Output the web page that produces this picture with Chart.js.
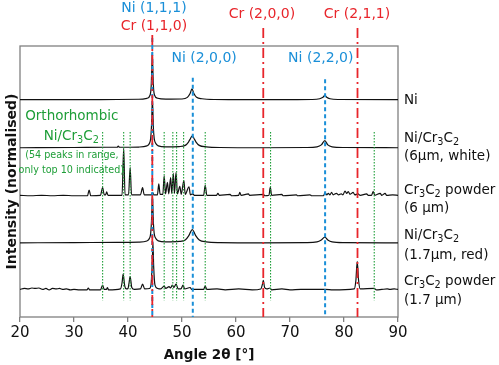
<!DOCTYPE html>
<html>
<head>
<meta charset="utf-8">
<script src="https://cdn.jsdelivr.net/npm/chart.js@4"></script>
<style>
html,body{margin:0;padding:0;background:#fff;}
#c{display:block;}
</style>
</head>
<body>
<canvas id="c" width="499" height="365"></canvas>
<script>
// ---------- data (angle 2θ, normalised intensity) ----------
const ANGLE_MIN = 20, ANGLE_MAX = 90, ANGLE_STEP = 10;
const Y_MIN = 0, Y_MAX = 5.7;

const TRACE_NAMES = ['Ni', 'Ni/Cr3C2 6µm white', 'Cr3C2 powder 6µm', 'Ni/Cr3C2 1.7µm red', 'Cr3C2 powder 1.7µm'];
const OFFSETS = [4.57, 3.56, 2.55, 1.56, 0.57];

const NI = [
  [20,0],[30,0],[38,0.005],[42,0.01],[43.5,0.03],[44.1,0.1],[44.3,0.3],[44.42,0.72],[44.5,1.0],[44.58,0.72],[44.7,0.3],[44.9,0.1],[45.5,0.03],
  [47,0.012],[50,0.015],[51.0,0.05],[51.5,0.13],[51.85,0.23],[52.2,0.13],[52.7,0.05],[53.7,0.02],[56,0.005],[65,0],
  [74,0.005],[75.5,0.02],[76.1,0.05],[76.45,0.09],[76.8,0.05],[77.4,0.02],[79,0.005],[90,0]
];
const NI_CR_WHITE = [
  [20,0],[30,0.005],[36,0.01],[38.0,0.01],[38.2,0.035],[38.4,0.01],[42,0.015],[43.5,0.04],[44.0,0.1],[44.2,0.2],[44.35,0.45],[44.45,0.82],
  [44.52,1.0],[44.6,0.8],[44.7,0.42],[44.85,0.2],[45.1,0.1],[45.6,0.04],[47,0.02],[49.5,0.025],[50.6,0.05],[51.2,0.12],[51.6,0.2],
  [51.9,0.25],[52.2,0.2],[52.6,0.12],[53.2,0.05],[54.5,0.02],[57,0.005],[65,0],[73,0.005],[75,0.02],[75.8,0.06],[76.45,0.15],
  [77.0,0.06],[77.8,0.02],[80,0.005],[90,0]
];
const CR3C2_6UM = [
  [20,0.01],[22,0],[24,0.01],[26,0],[28,0.01],[30,0],[32.5,0],[32.8,0.12],[33.1,0],[34.9,0.01],[35.3,0.17],[35.6,0.02],[35.85,0.02],
  [36.05,0.08],[36.3,0.01],[38.9,0.01],[39.2,1.0],[39.45,0.02],[40.1,0.02],[40.4,0.6],[40.65,0.02],[42.3,0.02],[42.7,0.17],[43.0,0.02],
  [44.3,0.02],[44.55,0.07],[44.8,0.02],[45.45,0.02],[45.7,0.25],[45.95,0.03],[46.45,0.03],[46.7,0.42],[46.95,0.04],[47.3,0.28],
  [47.55,0.04],[47.9,0.38],[48.1,0.05],[48.4,0.47],[48.6,0.05],[48.9,0.49],[49.15,0.04],[49.6,0.2],[49.85,0.03],[50.35,0.32],
  [50.6,0.03],[51.3,0.19],[51.55,0.02],[52.0,0.04],[52.3,0.01],[54.0,0.01],[54.3,0.22],[54.6,0.01],[56.4,0.01],[56.65,0.05],
  [56.9,0.01],[58.9,0.03],[59.2,0],[60.5,0.01],[60.7,0.07],[60.95,0.01],[62.3,0.04],[62.5,0.01],[65.1,0.03],[65.3,0],[66.1,0.01],
  [66.35,0.18],[66.6,0.01],[68.5,0.03],[68.7,0],[71.2,0.02],[71.4,0],[73.7,0.02],[74,0],[76.2,0],[76.5,0.07],[76.8,0.02],[77.1,0.05],
  [77.4,0.02],[77.7,0.07],[78.0,0.02],[78.6,0.05],[79.0,0.02],[79.5,0.04],[79.8,0.02],[80.2,0.1],[80.5,0.05],[80.8,0.09],[81.1,0.03],
  [81.7,0.07],[82.0,0.02],[82.6,0.04],[83,0.01],[84.2,0.04],[84.5,0.01],[85.1,0.01],[85.4,0.09],[85.7,0.01],[86.7,0.05],[87.0,0.01],
  [87.6,0.05],[87.9,0.01],[89,0.02],[90,0.01]
];
const NI_CR_RED = [
  [20,0],[30,0.005],[38,0.01],[42,0.015],[43.5,0.04],[44.0,0.1],[44.2,0.2],[44.35,0.45],[44.45,0.82],[44.52,1.0],[44.6,0.8],[44.7,0.42],
  [44.85,0.2],[45.1,0.1],[45.6,0.04],[47,0.02],[49.5,0.03],[50.6,0.06],[51.2,0.14],[51.6,0.23],[51.9,0.28],[52.2,0.23],[52.6,0.14],
  [53.2,0.06],[54.5,0.02],[57,0.005],[65,0],[73,0.005],[75,0.02],[75.8,0.06],[76.45,0.12],[77.0,0.06],[77.8,0.02],[80,0.005],[90,0]
];
const CR3C2_17UM = [
  [20,0.01],[20.8,0.03],[21.5,0.02],[22.2,0.04],[22.8,0.03],[23.5,0.04],[24.2,0.01],[24.8,0.03],[25.4,0],[26.0,0.03],[26.7,0.02],
  [27.3,0.03],[28,0.01],[28.6,0.02],[29.3,0],[30,0.01],[31,0],[32.4,0],[32.65,0.04],[32.9,0],[34.9,0],[35.3,0.1],[35.6,0.01],[36.0,0.01],
  [36.2,0.05],[36.4,0],[38.6,0.02],[38.9,0.15],[39.1,0.33],[39.4,0.08],[39.7,0.02],[40.0,0.03],[40.2,0.15],[40.4,0.28],[40.7,0.05],
  [41.2,0.01],[42.3,0.02],[42.7,0.12],[43.1,0.02],[44.0,0.03],[44.3,0.15],[44.5,0.6],[44.62,1.0],[44.75,0.5],[45.0,0.1],[45.5,0.03],
  [46.0,0.02],[46.7,0.08],[47.0,0.03],[47.6,0.07],[47.9,0.04],[48.2,0.1],[48.5,0.05],[48.9,0.12],[49.3,0.02],[49.8,0.02],[50.2,0.1],
  [50.5,0.02],[51.5,0.05],[51.8,0.01],[54.0,0.01],[54.3,0.08],[54.6,0.01],[56.5,0.02],[58,0],[60.5,0.02],[63,0],[64.6,0.02],[64.9,0.12],
  [65.05,0.2],[65.3,0.05],[65.7,0.02],[66.3,0.04],[66.6,0],[68.5,0.02],[70,0],[72,0.01],[76.5,0.01],[78,0],[81.9,0.02],[82.2,0.2],
  [82.45,0.6],[82.7,0.2],[83.0,0.02],[85.6,0.03],[86,0],[87,0.01],[88,0.02],[88.5,0.01],[89.3,0.02],[90,0.01]
];
const TRACES = [NI, NI_CR_WHITE, CR3C2_6UM, NI_CR_RED, CR3C2_17UM];

// reference reflections (angle 2θ) and the heights (y units) where their marker lines start
const NI_LINES = [44.5, 52.0, 76.5];
const NI_LINE_TOPS = [5.87, 5.03, 5.0];
const CR_LINES = [44.5, 65.05, 82.5];
const CR_LINE_TOPS = [5.93, 6.08, 6.08];
const TOP10_LINES = [35.3, 39.2, 40.4, 46.7, 48.3, 49.0, 50.3, 54.3, 66.4, 85.6];
const TOP10_SPAN = [3.89, 0.35];

// labels: [text, angle, y]   ('_' marks a subscript character)
const TOP_LABELS = [
  ['Ni (1,1,1)', 44.8, 6.50, 'blue'],
  ['Cr (1,1,0)', 44.8, 6.12, 'red'],
  ['Cr (2,0,0)', 64.8, 6.37, 'red'],
  ['Cr (2,1,1)', 82.4, 6.37, 'red'],
  ['Ni (2,0,0)', 54.1, 5.43, 'blue'],
  ['Ni (2,2,0)', 75.7, 5.43, 'blue']
];
const GREEN_LABELS = [
  ['Orthorhombic', 29.6, 4.21, 13.5],
  ['Ni/Cr_3C_2', 29.5, 3.79, 13.5],
  ['(54 peaks in range,', 29.6, 3.39, 9.6],
  ['only top 10 indicated)', 29.5, 3.09, 9.6]
];
const RIGHT_LABELS = [
  ['Ni', 4.56], ['Ni/Cr_3C_2', 3.76], ['(6µm, white)', 3.37],
  ['Cr_3C_2 powder', 2.67], ['(6 µm)', 2.29],
  ['Ni/Cr_3C_2', 1.72], ['(1.7µm, red)', 1.30],
  ['Cr_3C_2 powder', 0.74], ['(1.7 µm)', 0.34]
];

const COLORS = { blue: '#1a8fd8', red: '#e8252b', green: '#1e9e38', black: '#111111', frame: '#808080' };
const FONT = 'DejaVu Sans';

// ---------- helpers ----------
function parseRich(s) {
  const parts = [];
  for (let i = 0; i < s.length; i++) {
    if (s[i] === '_' && i + 1 < s.length) { parts.push([s[i + 1], true]); i++; }
    else {
      if (parts.length && !parts[parts.length - 1][1]) parts[parts.length - 1][0] += s[i];
      else parts.push([s[i], false]);
    }
  }
  return parts;
}
function drawRich(ctx, s, x, y, size, align) {
  const parts = parseRich(s);
  const subSize = size * 0.72;
  let w = 0;
  parts.forEach(([t, sub]) => { ctx.font = (sub ? subSize : size) + 'px "' + FONT + '"'; w += ctx.measureText(t).width; });
  let cx = align === 'center' ? x - w / 2 : x;
  ctx.textAlign = 'left';
  ctx.textBaseline = 'middle';
  parts.forEach(([t, sub]) => {
    ctx.font = (sub ? subSize : size) + 'px "' + FONT + '"';
    ctx.fillText(t, cx, sub ? y + size * 0.3 : y);
    cx += ctx.measureText(t).width;
  });
}

const annotations = {
  id: 'annotations',
  beforeDatasetsDraw(chart) {
    const { ctx, chartArea: a } = chart;
    ctx.save();
    ctx.strokeStyle = COLORS.frame;
    ctx.lineWidth = 1.3;
    ctx.strokeRect(a.left, a.top, a.right - a.left, a.bottom - a.top);
    ctx.restore();
  },
  afterDatasetsDraw(chart) {
    const { ctx, scales: { x, y } } = chart;
    const vline = (ang, v0, v1) => {
      const px = x.getPixelForValue(ang);
      ctx.beginPath();
      ctx.moveTo(px, y.getPixelForValue(v0));
      ctx.lineTo(px, y.getPixelForValue(v1));
      ctx.stroke();
    };
    ctx.save();
    ctx.strokeStyle = COLORS.green; ctx.lineWidth = 1.1; ctx.setLineDash([1.5, 1.5]);
    TOP10_LINES.forEach(a => vline(a, TOP10_SPAN[0], TOP10_SPAN[1]));
    ctx.strokeStyle = COLORS.blue; ctx.lineWidth = 2; ctx.setLineDash([4, 3]);
    NI_LINES.forEach((a, i) => vline(a, NI_LINE_TOPS[i], Y_MIN));
    ctx.strokeStyle = COLORS.red; ctx.lineWidth = 1.8; ctx.setLineDash([10, 4, 2, 4]);
    CR_LINES.forEach((a, i) => vline(a, CR_LINE_TOPS[i], Y_MIN));
    ctx.restore();
  },
  afterDraw(chart) {
    const { ctx, scales: { x, y }, chartArea: a } = chart;
    ctx.save();
    TOP_LABELS.forEach(([t, ang, v, c]) => {
      ctx.fillStyle = COLORS[c];
      drawRich(ctx, t, x.getPixelForValue(ang), y.getPixelForValue(v), 14, 'center');
    });
    ctx.fillStyle = COLORS.green;
    GREEN_LABELS.forEach(([t, ang, v, sz]) => drawRich(ctx, t, x.getPixelForValue(ang), y.getPixelForValue(v), sz, 'center'));
    ctx.fillStyle = COLORS.black;
    RIGHT_LABELS.forEach(([t, v]) => drawRich(ctx, t, a.right + 6, y.getPixelForValue(v), 13.5, 'left'));
    ctx.restore();
  }
};

// ---------- chart ----------
const datasets = TRACES.map((pts, i) => ({
  label: TRACE_NAMES[i],
  data: pts.map(([ang, v]) => ({ x: ang, y: v + OFFSETS[i] })),
  borderColor: COLORS.black,
  borderWidth: 1.2,
  pointRadius: 0,
  fill: false,
  cubicInterpolationMode: 'monotone'
}));

new Chart(document.getElementById('c'), {
  type: 'line',
  data: { datasets },
  options: {
    responsive: false,
    animation: false,
    parsing: false,
    layout: { padding: { left: 0, right: 101, top: 46, bottom: 0 } },
    plugins: { legend: { display: false }, tooltip: { enabled: false } },
    scales: {
      x: {
        type: 'linear', min: ANGLE_MIN, max: ANGLE_MAX,
        ticks: { stepSize: ANGLE_STEP, color: COLORS.black, font: { family: FONT, size: 15 }, padding: 2, maxRotation: 0 },
        grid: { drawOnChartArea: false, drawTicks: true, tickLength: 5, color: COLORS.frame, lineWidth: 1.3 },
        border: { display: false },
        title: { display: true, text: 'Angle 2θ [°]', color: COLORS.black, font: { family: FONT, size: 13.5, weight: 'bold' }, padding: { top: 0, bottom: 1 } },
        afterFit(s) { s.height = 48; }
      },
      y: {
        min: Y_MIN, max: Y_MAX,
        ticks: { display: false },
        grid: { display: false },
        border: { display: false },
        title: { display: true, text: 'Intensity (normalised)', color: COLORS.black, font: { family: FONT, size: 14, weight: 'bold' }, padding: { top: 4, bottom: 0 } },
        afterFit(s) { s.width = 20; }
      }
    }
  },
  plugins: [annotations]
});
</script>
</body>
</html>
